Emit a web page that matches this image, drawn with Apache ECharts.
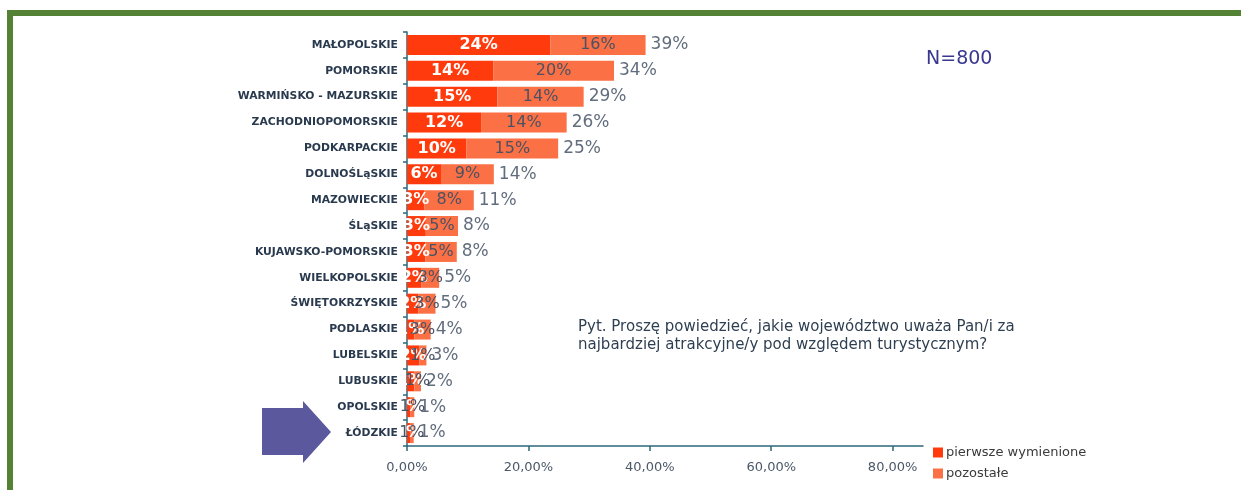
<!DOCTYPE html>
<html>
<head>
<meta charset="utf-8">
<script src="https://cdn.jsdelivr.net/npm/echarts@6/dist/echarts.min.js"></script>
<style>
  html, body { margin: 0; padding: 0; background: #ffffff; }
  #chart { width: 1241px; height: 490px; }
</style>
</head>
<body>
<div id="chart"></div>
<script>
// Voivodeships, listed from the most to the least attractive
const regions = [
  'MAŁOPOLSKIE', 'POMORSKIE', 'WARMIŃSKO - MAZURSKIE', 'ZACHODNIOPOMORSKIE',
  'PODKARPACKIE', 'DOLNOŚLąSKIE', 'MAZOWIECKIE', 'ŚLąSKIE',
  'KUJAWSKO-POMORSKIE', 'WIELKOPOLSKIE', 'ŚWIĘTOKRZYSKIE', 'PODLASKIE',
  'LUBELSKIE', 'LUBUSKIE', 'OPOLSKIE', 'ŁÓDZKIE'
];
// Share of answers (%) – named first
const firstMentioned = [23.6, 14.2, 14.9, 12.2, 9.8, 5.6, 2.9, 3.1, 3.0, 2.4, 1.9, 1.2, 2.0, 1.2, 0.6, 0.5];
// Share of answers (%) – named in further mentions
const otherMentions  = [15.7, 19.9, 14.2, 14.1, 15.1, 8.7, 8.1, 5.3, 5.2, 2.9, 2.8, 2.7, 1.2, 1.1, 0.6, 0.6];
const xTicks = [0, 20, 40, 60, 80];

const totals = firstMentioned.map((v, i) => +(v + otherMentions[i]).toFixed(1));
const pct = v => Math.round(v) + '%';

const FONT = '"DejaVu Sans", Verdana, sans-serif';
const RED = '#ff3a0c';
const ORANGE = '#fb7044';
const AXIS = '#2c6878';
const BORDER = '#548235';

const chart = echarts.init(document.getElementById('chart'), null, { renderer: 'canvas' });

chart.setOption({
  animation: false,
  textStyle: { fontFamily: FONT },
  grid: { left: 407, top: 32, right: 318, bottom: 44, containLabel: false },
  legend: {
    orient: 'vertical',
    left: 928,
    top: 441,
    itemWidth: 10,
    itemHeight: 10,
    itemGap: 8,
    icon: 'rect',
    data: ['pierwsze wymienione', 'pozostałe'],
    textStyle: { fontFamily: FONT, fontSize: 13, color: '#3a3a3a', padding: [0, 0, 0, -2] }
  },
  xAxis: {
    type: 'value',
    min: 0,
    max: 85,
    interval: 20,
    splitLine: { show: false },
    axisLine: { show: true, lineStyle: { color: AXIS, width: 1.5 } },
    axisTick: { show: true, length: 5, customValues: xTicks, lineStyle: { color: AXIS, width: 1.5 } },
    axisLabel: {
      customValues: xTicks,
      margin: 15,
      fontSize: 13,
      color: '#4b5868',
      fontFamily: FONT,
      formatter: v => v.toFixed(2).replace('.', ',') + '%'
    }
  },
  yAxis: {
    type: 'category',
    inverse: true,
    data: regions,
    axisLine: { show: true, lineStyle: { color: AXIS, width: 1.5 } },
    axisTick: { show: true, length: 4, lineStyle: { color: AXIS, width: 1.5 } },
    axisLabel: {
      margin: 9,
      fontSize: 10.8,
      fontWeight: 'bold',
      color: '#2a3a4e',
      fontFamily: FONT
    }
  },
  series: [
    {
      name: 'pierwsze wymienione',
      type: 'bar',
      stack: 'share',
      barWidth: 20,
      data: firstMentioned,
      itemStyle: { color: RED },
      label: {
        show: true,
        position: 'inside',
        formatter: p => pct(p.value),
        color: '#ffffff',
        fontWeight: 'bold',
        fontSize: 16,
        fontFamily: FONT
      }
    },
    {
      name: 'pozostałe',
      type: 'bar',
      stack: 'share',
      barWidth: 20,
      data: otherMentions,
      itemStyle: { color: ORANGE },
      label: {
        show: true,
        position: 'inside',
        formatter: p => pct(p.value),
        color: '#4a5264',
        fontSize: 16,
        fontFamily: FONT
      }
    },
    {
      name: 'razem',
      type: 'scatter',
      data: totals,
      symbolSize: 0,
      silent: true,
      label: {
        show: true,
        position: 'right',
        distance: 5,
        formatter: p => pct(p.value),
        color: '#3a485c',
        fontSize: 17,
        fontFamily: FONT
      }
    }
  ],
  graphic: [
    // green frame
    { type: 'rect', shape: { x: 7, y: 10, width: 1234, height: 6 }, style: { fill: BORDER }, silent: true },
    { type: 'rect', shape: { x: 7, y: 10, width: 6, height: 480 }, style: { fill: BORDER }, silent: true },
    // sample size
    {
      type: 'text', left: 926, top: 50,
      style: { text: 'N=800', fontFamily: FONT, fontSize: 19, fill: '#383890' }
    },
    // survey question
    {
      type: 'text', left: 578, top: 318,
      style: {
        text: 'Pyt. Proszę powiedzieć, jakie województwo uważa Pan/i za\nnajbardziej atrakcyjne/y pod względem turystycznym?',
        fontFamily: FONT, fontSize: 15, lineHeight: 18, fill: '#2f3f52'
      }
    },
    // pointer arrow
    {
      type: 'polygon',
      shape: { points: [[262, 408], [303, 408], [303, 401], [331, 432], [303, 463], [303, 455], [262, 455]] },
      style: { fill: '#5b589e' },
      silent: true
    }
  ]
});
</script>
</body>
</html>
